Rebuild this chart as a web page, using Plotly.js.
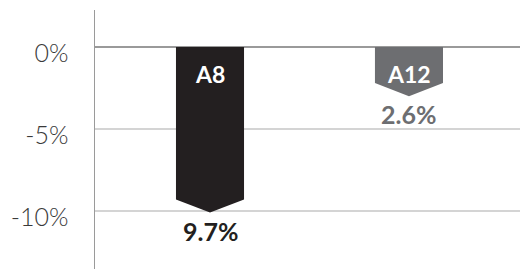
<!DOCTYPE html>
<html>
<head>
<meta charset="utf-8">
<script src="https://cdn.plot.ly/plotly-3.0.1.min.js"></script>
<style>html,body{margin:0;padding:0;background:#fff;}#chart{width:520px;height:269px;}</style>
</head>
<body>
<div id="chart"></div>
<script>
const categories = ["A8", "A12"];
const values = [-9.7, -2.6];
const barColors = ["#231f20", "#6d6e71"];
const labelColors = ["#231f20", "#6d6e71"];
const tickValues = [0, -5, -10];
const tickLabels = ["0%", "-5%", "-10%"];

const barWidth = 0.342;   // in x units
const notch = 0.8;        // chevron depth in % units (centred on the value)

const traces = categories.map((c, i) => {
  const x0 = i - barWidth / 2, x1 = i + barWidth / 2, v = values[i];
  const body = v + notch / 2, tip = v - notch / 2;
  return {
    type: "scatter", mode: "lines", fill: "toself",
    x: [x0, x1, x1, i, x0, x0],
    y: [0, 0, body, tip, body, 0],
    fillcolor: barColors[i], line: {width: 0, color: barColors[i]},
    hoverinfo: "skip", showlegend: false
  };
});

const annotations = [];
categories.forEach((c, i) => {
  annotations.push({
    x: i, y: 0, xref: "x", yref: "y", text: "<b>" + c + "</b>", showarrow: false,
    yanchor: "middle", yshift: -27,
    font: {family: "Lato, 'DejaVu Sans', sans-serif", size: 23, color: "#ffffff"}
  });
  annotations.push({
    x: i, y: values[i] - notch / 2, xref: "x", yref: "y",
    text: "<b>" + Math.abs(values[i]).toFixed(1) + "%</b>", showarrow: false,
    yanchor: "middle", yshift: -18,
    font: {family: "Lato, 'DejaVu Sans', sans-serif", size: 25, color: labelColors[i]}
  });
});

const layout = {
  width: 520, height: 269,
  margin: {l: 95, r: 0, t: 10, b: 0},
  paper_bgcolor: "#fff", plot_bgcolor: "#fff",
  xaxis: {range: [-0.578, 1.558], showgrid: false, zeroline: false, showline: false, showticklabels: false, fixedrange: true},
  yaxis: {
    range: [-13.54, 2.26], tickvals: tickValues, ticktext: tickLabels,
    showgrid: true, gridcolor: "#d4d4d4", gridwidth: 1.5,
    zeroline: true, zerolinecolor: "#9a9a9a", zerolinewidth: 1.5,
    showline: true, linecolor: "#9a9a9a", linewidth: 1.5,
    ticks: "", ticklabelstandoff: 20, ticklabelshift: 6,
    tickfont: {family: "Lato, 'DejaVu Sans', sans-serif", size: 25, color: "#3a3a3a", weight: 300}
  },
  annotations: annotations,
  showlegend: false
};

Plotly.newPlot("chart", traces, layout, {displayModeBar: false, staticPlot: true});
</script>
</body>
</html>
